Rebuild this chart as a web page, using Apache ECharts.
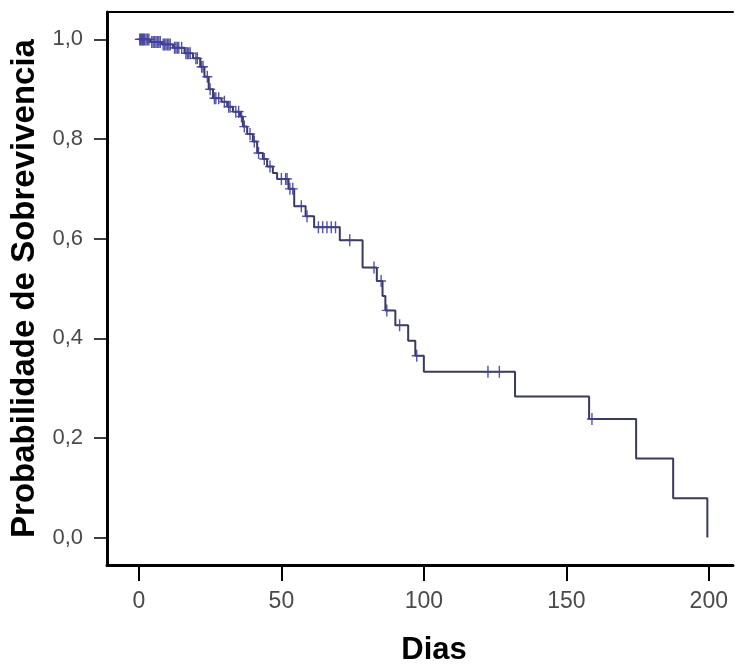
<!DOCTYPE html>
<html>
<head>
<meta charset="utf-8">
<script src="https://cdn.jsdelivr.net/npm/echarts@6/dist/echarts.min.js"></script>
<style>html,body{margin:0;padding:0;background:#fff}#c{width:735px;height:671px}</style>
</head>
<body>
<div id="c"></div>
<script>
// Kaplan-Meier step points (event times and survival after event)
const eventTimes = [0, 4, 8, 12, 16, 19, 21.5, 23, 24.5, 26, 29, 31, 33, 35.5, 36.5, 38, 40, 41.5, 43.5, 45, 47, 48.5, 52.5, 54.5, 58.5, 61.5, 70.5, 78.5, 83.5, 85.5, 86.5, 90, 94.5, 97, 100, 132, 158, 174.5, 187.5, 199.5];
const survival   = [1.0, 0.995, 0.99, 0.983, 0.972, 0.962, 0.945, 0.925, 0.900, 0.882, 0.875, 0.865, 0.855, 0.845, 0.825, 0.81, 0.795, 0.772, 0.76, 0.745, 0.732, 0.72, 0.70, 0.665, 0.645, 0.623, 0.597, 0.542, 0.515, 0.485, 0.456, 0.426, 0.395, 0.365, 0.333, 0.283, 0.238, 0.159, 0.079, 0];
// Censored observation times
const censorTimes = [0.3, 0.6, 1, 1.3, 1.6, 2, 2.5, 3, 3.5, 4.5, 5, 5.5, 6, 6.5, 7, 7.5, 8.5, 9, 9.5, 10, 10.5, 11, 12.5, 13, 13.5, 14, 15, 16.5, 17, 17.5, 18, 20, 20.5, 22, 22.5, 24, 25, 26.5, 27, 28, 30, 31.5, 32, 34, 35, 36, 37, 39, 40.5, 42, 44, 46, 50, 51.5, 52, 53, 54, 57, 59, 63, 64.5, 66, 67.5, 69, 74, 82.5, 85, 87, 91.5, 97.5, 122.5, 126.5, 159];
const xTicks = [0, 50, 100, 150, 200];
const yTicks = [0, 0.2, 0.4, 0.6, 0.8, 1.0];

function survAt(t) {
  let s = 1;
  for (let i = 0; i < eventTimes.length; i++) { if (eventTimes[i] <= t) s = survival[i]; }
  return s;
}
const lineData = eventTimes.map((t, i) => [t, survival[i]]);
const censorData = censorTimes.map(t => [t, survAt(t)]);

const plusPath = 'path://M-0.7,-6H0.7V-0.7H5V0.7H0.7V6H-0.7V0.7H-5V-0.7H-0.7Z';

const chart = echarts.init(document.getElementById('c'), null, {renderer: 'canvas'});
chart.setOption({
  backgroundColor: '#ffffff',
  animation: false,
  grid: {left: 107, right: 2, top: 12, bottom: 94, containLabel: false},
  xAxis: [{
    type: 'value', min: -11.2, max: 208.5,
    name: 'Dias', nameLocation: 'middle', nameGap: 70,
    nameTextStyle: {fontFamily: 'Liberation Sans', fontWeight: 'bold', fontSize: 31, color: '#000', padding: [0, 0, 0, 28]},
    axisLine: {show: true, onZero: false, lineStyle: {color: '#000', width: 3}},
    axisTick: {show: true, customValues: xTicks, length: 16, inside: false, lineStyle: {color: '#000', width: 2}},
    axisLabel: {show: true, customValues: xTicks, margin: 25, fontFamily: 'Liberation Sans', fontSize: 23, color: '#4a4a4a'},
    splitLine: {show: false}
  }, {
    type: 'value', position: 'top', min: -11.2, max: 208.5,
    axisLine: {show: true, onZero: false, lineStyle: {color: '#000', width: 2}},
    axisTick: {show: false}, axisLabel: {show: false}, splitLine: {show: false}
  }],
  yAxis: {
    type: 'value', min: -0.055, max: 1.055,
    name: 'Probabilidade de Sobrevivencia', nameLocation: 'middle', nameGap: 59,
    nameTextStyle: {fontFamily: 'Liberation Sans', fontWeight: 'bold', fontSize: 33, color: '#000'},
    axisLine: {show: true, onZero: false, lineStyle: {color: '#000', width: 3}},
    axisTick: {show: true, customValues: yTicks, length: 13, lineStyle: {color: '#000', width: 1.5}},
    axisLabel: {show: true, customValues: yTicks, margin: 24, fontFamily: 'Liberation Sans', fontSize: 22, color: '#4a4a4a',
      formatter: v => v.toFixed(1).replace('.', ',')},
    splitLine: {show: false}
  },
  series: [{
    type: 'line', step: 'end', data: lineData, showSymbol: false, symbol: 'none',
    lineStyle: {color: '#3a3a5c', width: 2}, z: 2
  }, {
    type: 'scatter', data: censorData, symbol: plusPath, symbolSize: [10, 12],
    itemStyle: {color: '#4040a0', opacity: 0.9}, z: 3
  }]
});
</script>
</body>
</html>
